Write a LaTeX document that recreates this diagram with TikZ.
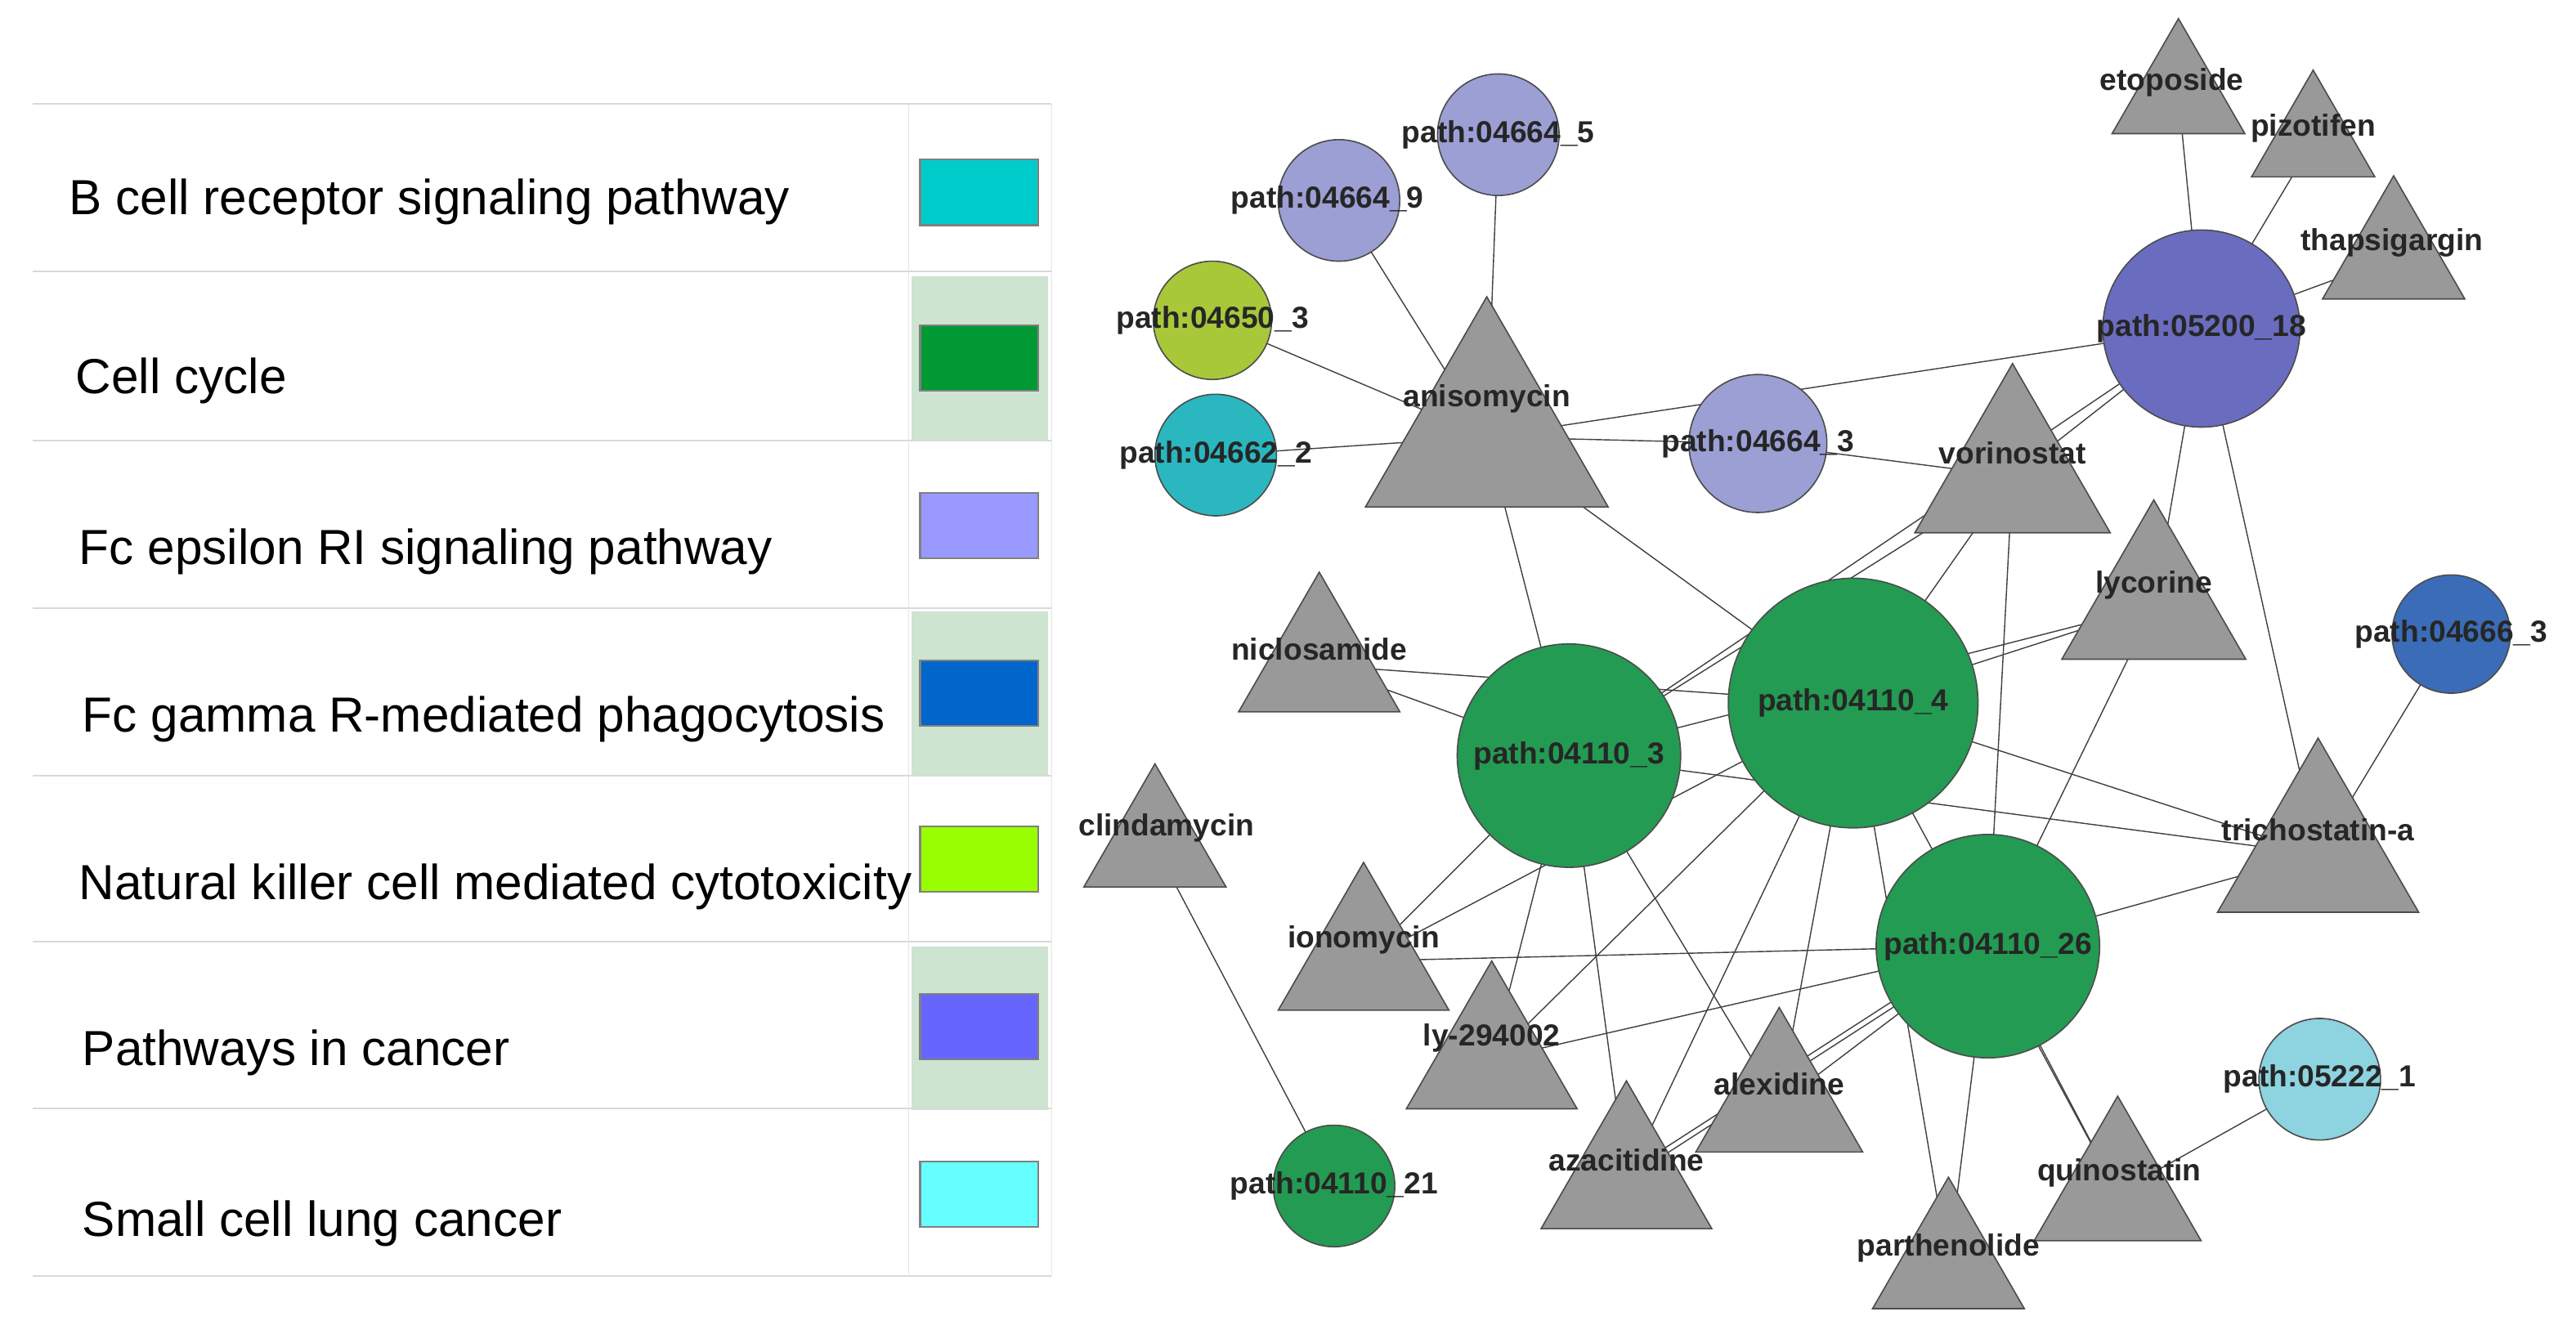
\documentclass[tikz,border=0pt]{standalone}
\usepackage{fontspec}
\setmainfont{Liberation Sans}
\usetikzlibrary{shapes.geometric}
\definecolor{lav}{HTML}{9B9FD4}
\definecolor{grn}{HTML}{239B52}
\definecolor{trig}{HTML}{999999}
\tikzset{
 circ/.style={circle,draw=black!70,line width=0.8pt,inner sep=0pt,minimum size=#1},
 tri/.style={isosceles triangle,isosceles triangle apex angle=60,shape border rotate=90,draw=black!70,fill=trig,line width=0.8pt,inner sep=0pt},
 lab/.style={font=\fontsize{18.5}{18.5}\bfseries\selectfont,text=black!85,inner sep=0pt},
 edge/.style={draw=black!75,line width=0.7pt},
 leg/.style={font=\fontsize{30}{30}\selectfont,anchor=west,inner sep=0pt},
 sw/.style={draw=black!50,line width=1.2pt,minimum width=72pt,minimum height=40pt,inner sep=0pt}
}
\begin{document}
\begin{tikzpicture}[x=1pt,y=-1pt]
\useasboundingbox[fill=white] (0,0) rectangle (1568,812);
% legend
\foreach \y in {168,372,576}{\fill[fill={rgb,255:red,205;green,228;blue,208}] (555,\y) rectangle (638,\y+100);}
\foreach \y in {63,165,268,370,472,573,675,777}{\draw[black!15,line width=1pt] (20,\y) -- (640,\y);}
\draw[black!10] (553,63) -- (553,777) (640,63) -- (640,777);
\node[sw,fill={rgb,255:red,0;green,204;blue,204}] (s1) at (596,117) {};
\node[sw,fill={rgb,255:red,0;green,153;blue,51}] (s2) at (596,218) {};
\node[sw,fill={rgb,255:red,153;green,153;blue,255}] (s3) at (596,320) {};
\node[sw,fill={rgb,255:red,0;green,102;blue,204}] (s4) at (596,422) {};
\node[sw,fill={rgb,255:red,153;green,255;blue,0}] (s5) at (596,523) {};
\node[sw,fill={rgb,255:red,102;green,102;blue,255}] (s6) at (596,625) {};
\node[sw,fill={rgb,255:red,102;green,255;blue,255}] (s7) at (596,727) {};
\node[leg] (l1) at (42,123) {B cell receptor signaling pathway};
\node[leg] (l2) at (46,232) {Cell cycle};
\node[leg] (l3) at (48,336) {Fc epsilon RI signaling pathway};
\node[leg] (l4) at (50,438) {Fc gamma R-mediated phagocytosis};
\node[leg] (l5) at (48,540) {Natural killer cell mediated cytotoxicity};
\node[leg] (l6) at (50,641) {Pathways in cancer};
\node[leg] (l7) at (50,745) {Small cell lung cancer};
% coordinates
\coordinate (c5) at (912,82);
\coordinate (c9) at (815,122);
\coordinate (c50) at (738,195);
\coordinate (c62) at (740,277);
\coordinate (c3b) at (1070,270);
\coordinate (c18) at (1340,200);
\coordinate (c66) at (1492,386);
\coordinate (c3) at (955,460);
\coordinate (c4) at (1128,428);
\coordinate (c26) at (1210,576);
\coordinate (c22) at (1412,657);
\coordinate (c21) at (812,722);
\coordinate (eto) at (1326,58);
\coordinate (piz) at (1408,86);
\coordinate (tha) at (1457,157);
\coordinate (ani) at (905,266);
\coordinate (vor) at (1225,290);
\coordinate (lyc) at (1311,369);
\coordinate (nic) at (803,405);
\coordinate (tri) at (1411,520);
\coordinate (cli) at (703,515);
\coordinate (ion) at (830,585);
\coordinate (ly) at (908,645);
\coordinate (ale) at (1083,672);
\coordinate (aza) at (990,718);
\coordinate (qui) at (1289,726);
\coordinate (par) at (1186,770);
% edges
\foreach \a/\b in {ani/c5,ani/c9,ani/c50,ani/c62,ani/c3b,c3b/vor,ani/c18,ani/c3,ani/c4,
 c18/eto,c18/piz,c18/tha,c18/vor,c18/lyc,c18/tri,c18/c3,c66/tri,
 vor/c4,vor/c26,vor/c3,lyc/c4,lyc/c3,lyc/c26,nic/c3,nic/c4,tri/c3,tri/c4,tri/c26,
 cli/c21,ion/c3,ion/c4,ion/c26,ly/c3,ly/c4,ly/c26,ale/c3,ale/c4,ale/c26,
 aza/c3,aza/c4,aza/c26,par/c4,par/c26,qui/c26,qui/c22,qui/c4}
 {\draw[edge] (\a) -- (\b);}
\draw[edge] ([yshift=4pt]aza) -- ([yshift=4pt]c26);
% triangles
\node[tri,minimum width=80pt,minimum height=70pt] (teto) at (eto) {};
\node[tri,minimum width=72pt,minimum height=65pt] (tpiz) at (piz) {};
\node[tri,minimum width=80pt,minimum height=75pt] (ttha) at (tha) {};
\node[tri,minimum width=130pt,minimum height=128pt] (tani) at (ani) {};
\node[tri,minimum width=108pt,minimum height=103pt] (tvor) at (vor) {};
\node[tri,minimum width=100pt,minimum height=97pt] (tlyc) at (lyc) {};
\node[tri,minimum width=85pt,minimum height=85pt] (tnic) at (nic) {};
\node[tri,minimum width=105pt,minimum height=106pt] (ttri) at (tri) {};
\node[tri,minimum width=75pt,minimum height=75pt] (tcli) at (cli) {};
\node[tri,minimum width=90pt,minimum height=90pt] (tion) at (ion) {};
\node[tri,minimum width=85pt,minimum height=90pt] (tly) at (ly) {};
\node[tri,minimum width=85pt,minimum height=88pt] (tale) at (ale) {};
\node[tri,minimum width=92pt,minimum height=90pt] (taza) at (aza) {};
\node[tri,minimum width=90pt,minimum height=88pt] (tqui) at (qui) {};
\node[tri,minimum width=85pt,minimum height=80pt] (tpar) at (par) {};
% circles
\node[circ=74pt,fill=lav] (n5) at (c5) {};
\node[circ=74pt,fill=lav] (n9) at (c9) {};
\node[circ=72pt,fill={rgb,255:red,168;green,200;blue,58}] (n50) at (c50) {};
\node[circ=74pt,fill={rgb,255:red,42;green,183;blue,192}] (n62) at (c62) {};
\node[circ=84pt,fill=lav] (n3b) at (c3b) {};
\node[circ=120pt,fill={rgb,255:red,106;green,108;blue,192}] (n18) at (c18) {};
\node[circ=72pt,fill={rgb,255:red,58;green,108;blue,184}] (n66) at (c66) {};
\node[circ=136pt,fill=grn] (n3) at (c3) {};
\node[circ=152pt,fill=grn] (n4) at (c4) {};
\node[circ=136pt,fill=grn] (n26) at (c26) {};
\node[circ=74pt,fill={rgb,255:red,141;green,211;blue,224}] (n22) at (c22) {};
\node[circ=74pt,fill=grn] (n21) at (c21) {};
% labels
\node[lab] at (912,82) {path:04664\_5};
\node[lab] at (808,122) {path:04664\_9};
\node[lab] at (738,195) {path:04650\_3};
\node[lab] at (740,277) {path:04662\_2};
\node[lab] at (1070,270) {path:04664\_3};
\node[lab] at (1340,200) {path:05200\_18};
\node[lab] at (1492,386) {path:04666\_3};
\node[lab] at (955,460) {path:04110\_3};
\node[lab] at (1128,428) {path:04110\_4};
\node[lab] at (1210,576) {path:04110\_26};
\node[lab] at (1412,657) {path:05222\_1};
\node[lab] at (812,722) {path:04110\_21};
\node[lab] at (1322,50) {etoposide};
\node[lab] at (1408,78) {pizotifen};
\node[lab] at (1456,148) {thapsigargin};
\node[lab] at (905,243) {anisomycin};
\node[lab] at (1225,276) {vorinostat};
\node[lab] at (1311,356) {lycorine};
\node[lab] at (803,395) {niclosamide};
\node[lab] at (1411,505) {trichostatin-a};
\node[lab] at (710,504) {clindamycin};
\node[lab] at (830,572) {ionomycin};
\node[lab] at (908,632) {ly-294002};
\node[lab] at (1083,660) {alexidine};
\node[lab] at (990,706) {azacitidine};
\node[lab] at (1290,714) {quinostatin};
\node[lab] at (1186,760) {parthenolide};
\end{tikzpicture}
\end{document}
